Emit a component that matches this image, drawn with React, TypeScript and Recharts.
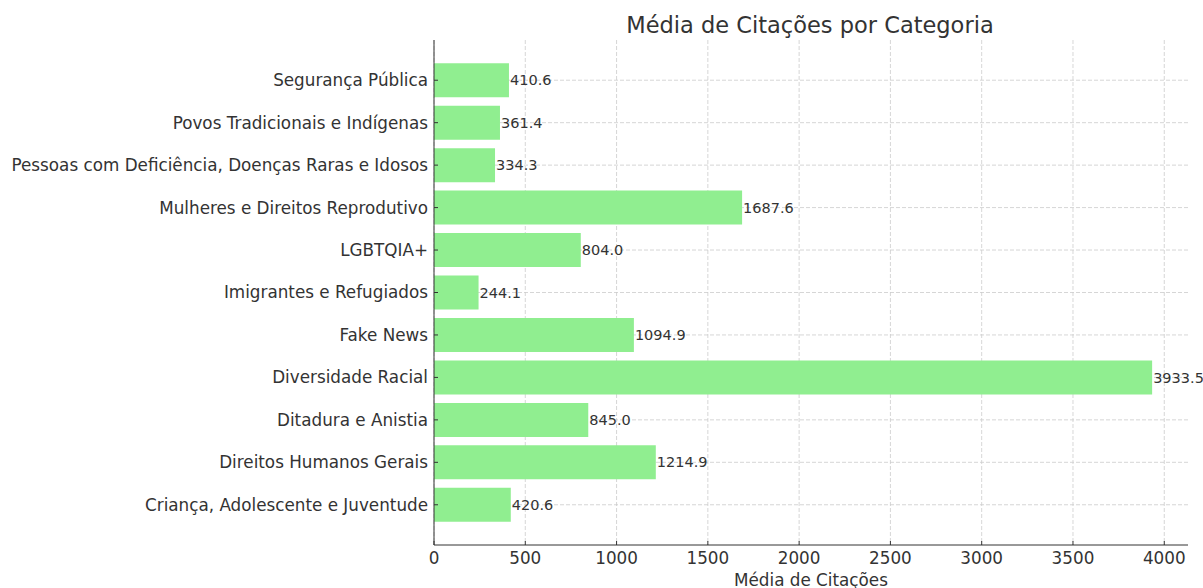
import { BarChart, Bar, XAxis, YAxis, CartesianGrid, LabelList } from "recharts";

const categories = [
  "Segurança Pública",
  "Povos Tradicionais e Indígenas",
  "Pessoas com Deficiência, Doenças Raras e Idosos",
  "Mulheres e Direitos Reprodutivo",
  "LGBTQIA+",
  "Imigrantes e Refugiados",
  "Fake News",
  "Diversidade Racial",
  "Ditadura e Anistia",
  "Direitos Humanos Gerais",
  "Criança, Adolescente e Juventude",
];

const mediaCitacoes = [410.6, 361.4, 334.3, 1687.6, 804.0, 244.1, 1094.9, 3933.5, 845.0, 1214.9, 420.6];

const xTicks = [0, 500, 1000, 1500, 2000, 2500, 3000, 3500, 4000];

const data = categories.map((name, i) => ({ name, value: mediaCitacoes[i] }));

const FONT = "'DejaVu Sans', sans-serif";
const TEXT = "#333333";

export default function App() {
  return (
    <div style={{ position: "absolute", left: 0, top: 0, width: 1203, height: 588, background: "#fff", fontFamily: FONT }}>
      <BarChart
        width={1203}
        height={588}
        data={data}
        layout="vertical"
        margin={{ top: 40, right: 15, bottom: 0, left: 0 }}
        barCategoryGap="10%"
      >
        <XAxis
          type="number"
          domain={[0, 4130]}
          ticks={xTicks}
          height={43}
          tickSize={-4}
          tickMargin={11}
          stroke={TEXT}
          tick={{ fill: TEXT, fontSize: 16.8, fontFamily: FONT }}
          label={{ value: "Média de Citações", position: "insideBottom", offset: 2, fill: TEXT, fontSize: 16.8, fontFamily: FONT }}
        />
        <YAxis
          type="category"
          dataKey="name"
          width={434}
          padding={{ top: 19, bottom: 19 }}
          tickSize={-4}
          tickMargin={10}
          stroke={TEXT}
          interval={0}
          tick={{ fill: TEXT, fontSize: 16.8, fontFamily: FONT }}
        />
        <Bar dataKey="value" fill="#90EE90" isAnimationActive={false}>
          <LabelList
            dataKey="value"
            position="right"
            offset={1}
            formatter={(v: any) => Number(v).toFixed(1)}
            style={{ fill: TEXT, fontSize: 14.5, fontFamily: FONT }}
          />
        </Bar>
        {/* syncWithTicks: no extra grid lines on the plot edges */}
        <CartesianGrid stroke="#cccccc" strokeDasharray="4 2" strokeWidth={0.8} syncWithTicks />
        <text x={810} y={33} textAnchor="middle" fill={TEXT} fontSize={22.5} fontFamily={FONT}>
          Média de Citações por Categoria
        </text>
      </BarChart>
    </div>
  );
}
